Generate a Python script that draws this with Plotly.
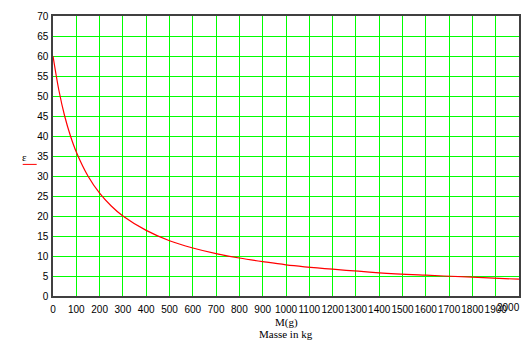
import plotly.graph_objects as go

# Values
mass = [0, 25, 50, 75, 100, 150, 200, 250, 300, 400, 500, 600, 700, 800, 900,
        1000, 1200, 1400, 1600, 1800, 2000]
eps = [60, 51.5, 45, 40, 36, 30, 25.7, 22.5, 20, 16.4, 13.8, 12, 10.6, 9.5, 8.6,
       7.8, 6.7, 5.8, 5.2, 4.7, 4.2]
x_ticks = list(range(0, 2001, 100))
y_ticks = list(range(0, 71, 5))

fig = go.Figure()
fig.add_trace(go.Scatter(x=mass, y=eps, mode="lines",
                         line=dict(color="#ff0000", width=1.2, shape="spline"),
                         showlegend=False, hoverinfo="skip"))

sans = dict(family="Liberation Sans, Arial", size=10, color="#000")
axis_common = dict(showgrid=True, gridcolor="#00ff00", gridwidth=1.3,
                   showline=True, linecolor="#404040", linewidth=1.5, mirror=True,
                   zeroline=False, ticks="", automargin=False, tickangle=0,
                   tickfont=sans)

# last label is drawn as an annotation, shifted left like in the reference
x_text = [str(v) for v in x_ticks[:-1]] + [""]
fig.update_xaxes(range=[0, 2000], tickvals=x_ticks, ticktext=x_text,
                 ticklabelstandoff=3, **axis_common)
fig.update_yaxes(range=[0, 70], tickvals=y_ticks, ticktext=[str(v) for v in y_ticks],
                 ticklabelstandoff=1, **axis_common)

serif = dict(family="Liberation Serif, Times New Roman", size=11, color="#000")
fig.update_layout(
    width=530, height=344,
    margin=dict(l=53, r=11, t=16, b=48),
    paper_bgcolor="white", plot_bgcolor="white",
    annotations=[
        dict(text=str(x_ticks[-1]), xref="x", yref="paper", x=x_ticks[-1], y=0,
             xanchor="right", yanchor="top", xshift=3, yshift=-4, showarrow=False,
             font=sans),
        dict(text="M(g)", xref="paper", yref="paper", x=0.5, y=-0.095,
             showarrow=False, xanchor="center", yanchor="middle", font=serif),
        dict(text="Masse in kg", xref="paper", yref="paper", x=0.5, y=-0.135,
             showarrow=False, xanchor="center", yanchor="middle", font=serif),
        dict(text="ε", xref="paper", yref="paper", x=-0.061, y=0.495,
             showarrow=False, xanchor="center", yanchor="middle", font=serif),
    ],
    shapes=[
        dict(type="line", xref="paper", yref="paper", x0=-0.065, x1=-0.035,
             y0=0.470, y1=0.470, line=dict(color="#ff0000", width=1)),
    ],
)

fig.write_html("out.html", config={"displayModeBar": False},
               post_script="document.body.style.margin='0';document.body.style.overflow='hidden';")
